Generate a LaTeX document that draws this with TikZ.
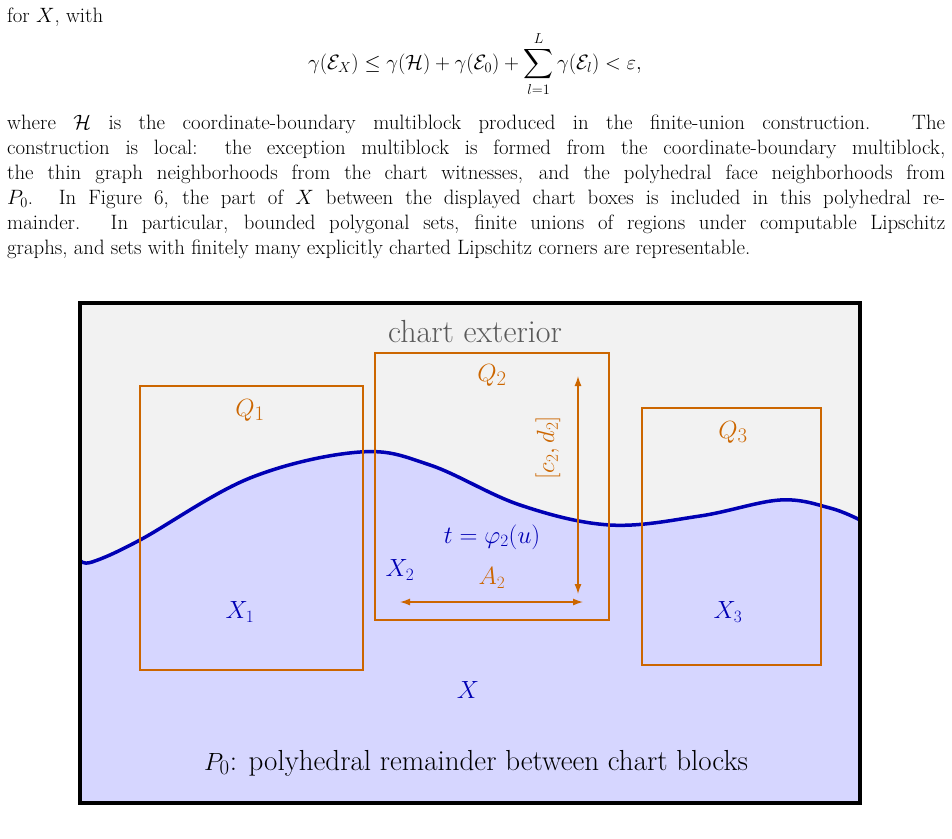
\documentclass[tikz,border=0pt]{standalone}
\usepackage{amsmath,amssymb}
\usetikzlibrary{arrows.meta}
\definecolor{orng}{RGB}{204,102,0}
\definecolor{blu}{RGB}{0,0,180}
\definecolor{lav}{RGB}{214,214,255}
\definecolor{bg}{RGB}{242,242,242}
\tikzset{
 para/.style={anchor=base west,inner sep=0pt,font=\fontsize{20.8}{25}\selectfont},
 qbox/.style={draw=orng,line width=2.5pt},
 big/.style={font=\fontsize{32}{36}\selectfont},
 mid/.style={font=\fontsize{26}{30}\selectfont},
 dimarrow/.style={orng,line width=1.3pt,{Latex[length=10pt,width=7pt]}-{Latex[length=10pt,width=7pt]}}
}
\newcommand{\jl}[1]{\hbox to 938pt{#1}}
\begin{document}
\begin{tikzpicture}[x=1pt,y=-1pt]
\useasboundingbox (0,0) rectangle (952,838);
\node[para] (l0) at (7,22) {for $X$, with};
\node[font=\fontsize{20.8}{25}\selectfont,inner sep=0pt] (eq) at (475,64) {$\displaystyle \gamma(\mathcal{E}_X)\le\gamma(\mathcal{H})+\gamma(\mathcal{E}_0)+\sum_{l=1}^{L}\gamma(\mathcal{E}_l)<\varepsilon,$};
\node[para] (l1) at (7,129) {\jl{where $\mathcal{H}$ is the coordinate-boundary multiblock produced in the finite-union construction. The}};
\node[para] (l2) at (7,154) {\jl{construction is local: the exception multiblock is formed from the coordinate-boundary multiblock,}};
\node[para] (l3) at (7,179) {\jl{the thin graph neighborhoods from the chart witnesses, and the polyhedral face neighborhoods from}};
\node[para] (l4) at (7,204) {\jl{$P_0$. In Figure 6, the part of $X$ between the displayed chart boxes is included in this polyhedral re-}};
\node[para] (l5) at (7,229) {\jl{mainder. In particular, bounded polygonal sets, finite unions of regions under computable Lipschitz}};
\node[para] (l6) at (7,254) {graphs, and sets with finitely many explicitly charted Lipschitz corners are representable.};
% figure
\fill[bg] (80,303) rectangle (860,803);
\fill[lav] plot[smooth,tension=0.6] coordinates {(80,560) (92,562) (140,540) (250,478) (360,452) (430,465) (520,505) (610,525) (700,516) (780,500) (830,508) (860,520)} -- (860,803) -- (80,803) -- cycle;
\draw[blu,line width=3.5pt] plot[smooth,tension=0.6] coordinates {(80,560) (92,562) (140,540) (250,478) (360,452) (430,465) (520,505) (610,525) (700,516) (780,500) (830,508) (860,520)};
\node[qbox,minimum width=223pt,minimum height=284pt,inner sep=0pt] (q1) at (251.5,528) {};
\node[qbox,minimum width=234pt,minimum height=267pt,inner sep=0pt] (q2) at (492,486.5) {};
\node[qbox,minimum width=179pt,minimum height=257pt,inner sep=0pt] (q3) at (731.5,536.5) {};
\draw[black,line width=4pt] (80,303) rectangle (860,803);
\node[big,text=black!65] (ce) at (475,332) {chart exterior};
\node[big,text=orng] (Q1) at (250,410) {$Q_1$};
\node[big,text=orng] (Q2) at (492,375) {$Q_2$};
\node[big,text=orng] (Q3) at (733,432) {$Q_3$};
\node[mid,text=blu] (X1) at (240,612) {$X_1$};
\node[mid,text=blu] (X2) at (400,570) {$X_2$};
\node[mid,text=blu] (X3) at (728,612) {$X_3$};
\node[big,text=blu] (X) at (468,690) {$X$};
\node[mid,text=blu] (phi) at (492,537) {$t=\varphi_2(u)$};
\node[mid,text=orng] (A2) at (492,578) {$A_2$};
\coordinate (ha) at (400,602); \coordinate (hb) at (583,602);
\draw[dimarrow] (ha) -- (hb);
\coordinate (va) at (578,376); \coordinate (vb) at (578,594);
\draw[dimarrow] (va) -- (vb);
\node[mid,text=orng,rotate=90] (cd) at (548,448) {$[c_2,d_2]$};
\node[font=\fontsize{29}{33}\selectfont] (P0) at (476,763) {$P_0$: polyhedral remainder between chart blocks};
\end{tikzpicture}
\end{document}
